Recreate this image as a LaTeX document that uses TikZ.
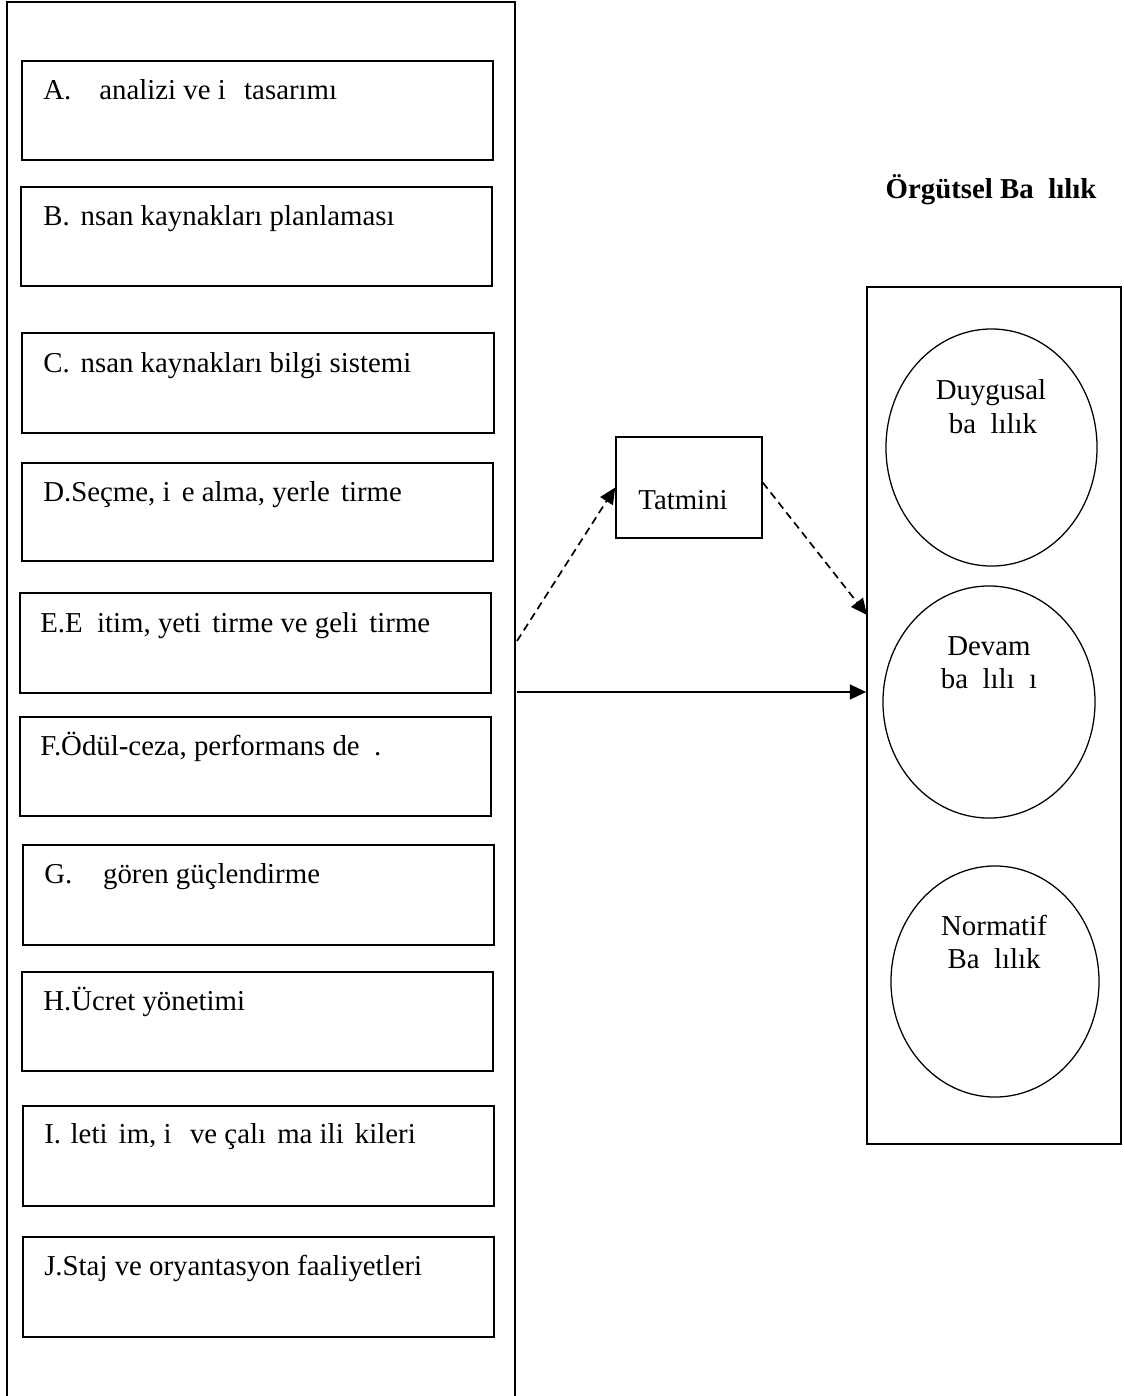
\documentclass[tikz,border=0pt]{standalone}
\usepackage{fontspec}
\setmainfont{Liberation Serif}
\usetikzlibrary{arrows.meta,fit,shapes.geometric}
\tikzset{
  frame/.style={draw, line width=1.2pt, inner sep=0pt},
  itembox/.style={draw, line width=1.1pt, inner sep=0pt},
  itemtext/.style={anchor=base west, inner sep=0pt, font=\fontsize{20.5}{24}\selectfont},
  ctext/.style={anchor=base, inner sep=0pt, font=\fontsize{20.5}{24}\selectfont},
  oval/.style={draw, ellipse, line width=0.9pt, inner sep=0pt},
  tip/.style={-{Triangle[length=11.5pt,width=10.5pt]}},
  dasharrow/.style={tip, line width=1.2pt, dash pattern=on 5.5pt off 3.5pt},
  solidarrow/.style={tip, line width=1.4pt},
}
\begin{document}
\begin{tikzpicture}[x=0.025cm, y=-0.025cm]
\useasboundingbox (0,0) rectangle (1124,1396);
\begin{scope}
  \clip (0,0) rectangle (1124,1396);
  \node[frame, fit={(7,2) (515,1430)}] (outer) {};
\end{scope}

% left item boxes
\node[itembox, fit={(22,61) (493,160)}] (bA) {};
\node[itemtext] (tA) at (43,99) {A.\ \phantom{İş}analizi ve i\phantom{ş} tasarımı};
\node[itembox, fit={(21,187) (492,286)}] (bB) {};
\node[itemtext] (tB) at (43,225) {B.\phantom{İ}\hspace{1pt}nsan kaynakları planlaması};
\node[itembox, fit={(22,333) (494,433)}] (bC) {};
\node[itemtext] (tC) at (43,372) {C.\phantom{İ}\hspace{1pt}nsan kaynakları bilgi sistemi};
\node[itembox, fit={(22,463) (493,561)}] (bD) {};
\node[itemtext] (tD) at (43,501) {D.Seçme, i\phantom{ş}e alma, yerle\phantom{ş}tirme};
\node[itembox, fit={(20,593) (491,693)}] (bE) {};
\node[itemtext] (tE) at (40,632) {E.E\phantom{ğ}itim, yeti\phantom{ş}tirme ve geli\phantom{ş}tirme};
\node[itembox, fit={(20,717) (491,816)}] (bF) {};
\node[itemtext] (tF) at (40,755) {F.Ödül-ceza, performans de\phantom{ğ}.};
\node[itembox, fit={(23,845) (494,945)}] (bG) {};
\node[itemtext] (tG) at (44,883) {G.\ \phantom{İş}\hspace{2pt}gören güçlendirme};
\node[itembox, fit={(22,972) (493,1071)}] (bH) {};
\node[itemtext] (tH) at (43,1010) {H.Ücret yönetimi};
\node[itembox, fit={(23,1106) (494,1206)}] (bI) {};
\node[itemtext] (tI) at (44,1143) {I.\phantom{İ}leti\phantom{ş}im, i\phantom{ş} ve çalı\phantom{ş}ma ili\phantom{ş}kileri};
\node[itembox, fit={(23,1237) (494,1337)}] (bJ) {};
\node[itemtext] (tJ) at (44,1275) {J.Staj ve oryantasyon faaliyetleri};

% Tatmini
\node[itembox, fit={(616,437) (762,538)}] (tat) {};
\node[ctext] (tatt) at (683,509) {Tatmini};

% right side
\node[anchor=base, inner sep=0pt, font=\fontsize{20.5}{24}\selectfont\bfseries] (title) at (991,198) {Örgütsel Ba\phantom{ğ}lılık};
\node[frame, fit={(867,287) (1121,1144)}] (rbox) {};

\node[oval, minimum width=5.275cm, minimum height=5.925cm] (e1) at (991.5,447.5) {};
\node[ctext] (e1a) at (991,399) {Duygusal};
\node[ctext] (e1b) at (993,433) {ba\phantom{ğ}lılık};

\node[oval, minimum width=5.3cm, minimum height=5.8cm] (e2) at (989,702) {};
\node[ctext] (e2a) at (989,655) {Devam};
\node[ctext] (e2b) at (989,688) {ba\phantom{ğ}lılı\phantom{ğ}ı};

\node[oval, minimum width=5.2cm, minimum height=5.775cm] (e3) at (995,981.5) {};
\node[ctext] (e3a) at (994,935) {Normatif};
\node[ctext] (e3b) at (994,968) {Ba\phantom{ğ}lılık};

% connectors
\coordinate (s1) at (517,641);
\coordinate (s2) at (517,692);
\coordinate (d2) at (867,615);
\draw[dasharrow] (s1) -- (tat.west);
\draw[dasharrow] ([yshift=0.125cm]tat.east) -- (d2);
\draw[solidarrow] (s2) -- (s2 -| rbox.west);
\end{tikzpicture}
\end{document}
